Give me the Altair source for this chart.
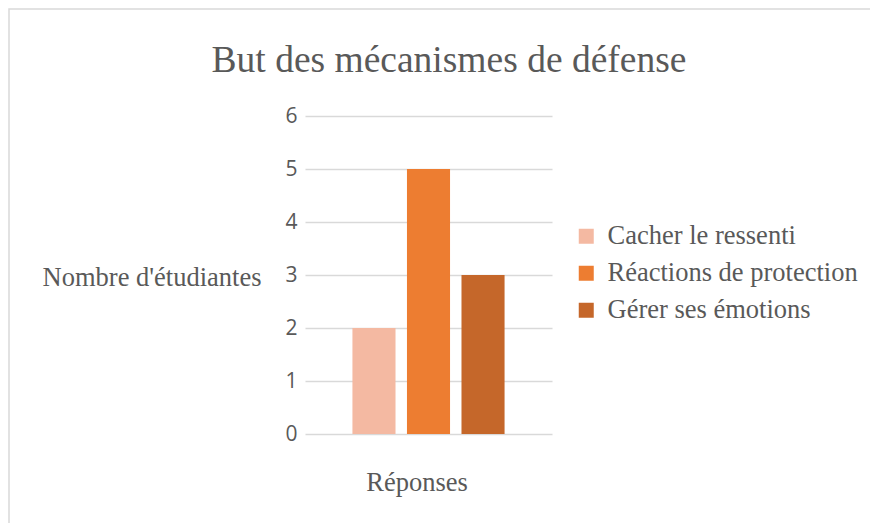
import altair as alt
import pandas as pd

series = ["Cacher le ressenti", "Réactions de protection", "Gérer ses émotions"]
values = [2, 5, 3]
colors = ["#F4B9A2", "#ED7D31", "#C5672A"]
y_ticks = [0, 1, 2, 3, 4, 5, 6]
title_text = "But des mécanismes de défense"

df = pd.DataFrame({"serie": series, "valeur": values})

SERIF = "Liberation Serif"
SANS = "Open Sans"
GRAY = "#595959"

bars = alt.Chart(df).mark_bar().encode(
    x=alt.X(
        "serie:N",
        sort=series,
        scale=alt.Scale(paddingInner=0.21, paddingOuter=0.87),
        axis=alt.Axis(
            title="Réponses", labels=False, ticks=False, domain=False, grid=False,
            titleFont=SERIF, titleFontSize=26.5, titleFontWeight="normal", titleColor=GRAY,
            titleX=111.5, titleY=48, titleBaseline="middle", titleAlign="center",
        ),
    ),
    y=alt.Y(
        "valeur:Q",
        scale=alt.Scale(domain=[0, 6], nice=False),
        axis=alt.Axis(
            title="Nombre d'étudiantes", values=y_ticks, ticks=False, domain=False,
            grid=True, gridColor="#D9D9D9", gridWidth=1.3,
            labelFont=SANS, labelFontSize=21, labelColor=GRAY, labelPadding=8,
            titleFont=SERIF, titleFontSize=26.5, titleFontWeight="normal", titleColor=GRAY,
            titleAngle=0, titleAlign="right", titleBaseline="middle",
            titleX=-44, titleY=161,
        ),
    ),
    color=alt.Color(
        "serie:N",
        sort=series,
        scale=alt.Scale(domain=series, range=colors),
        legend=alt.Legend(
            title=None, orient="none", legendX=268, legendY=107, padding=0,
            symbolType="square", symbolSize=225, symbolStrokeWidth=0, symbolOpacity=1,
            labelFont=SERIF, labelFontSize=26.5, labelColor=GRAY, labelOffset=8,
            rowPadding=10, labelLimit=400,
        ),
    ),
)

one = pd.DataFrame({"t": [title_text]})

title = alt.Chart(one).mark_text(
    font=SERIF, fontSize=37.5, color=GRAY, align="center", baseline="alphabetic"
).encode(text="t:N", x=alt.value(144), y=alt.value(-44))

border = alt.Chart(one).mark_rect(
    fill=None, stroke="#D9D9D9", strokeWidth=1.5
).encode(
    x=alt.value(-296), x2=alt.value(700), y=alt.value(-107), y2=alt.value(600)
)

chart = alt.layer(border, title, bars).properties(
    width=247,
    height=318,
    padding={"left": 297, "top": 108, "right": 318, "bottom": 89},
    autosize=alt.AutoSizeParams(type="none"),
).configure_view(stroke=None)

chart.save("out.html", embed_options={"renderer": "svg", "actions": False})
